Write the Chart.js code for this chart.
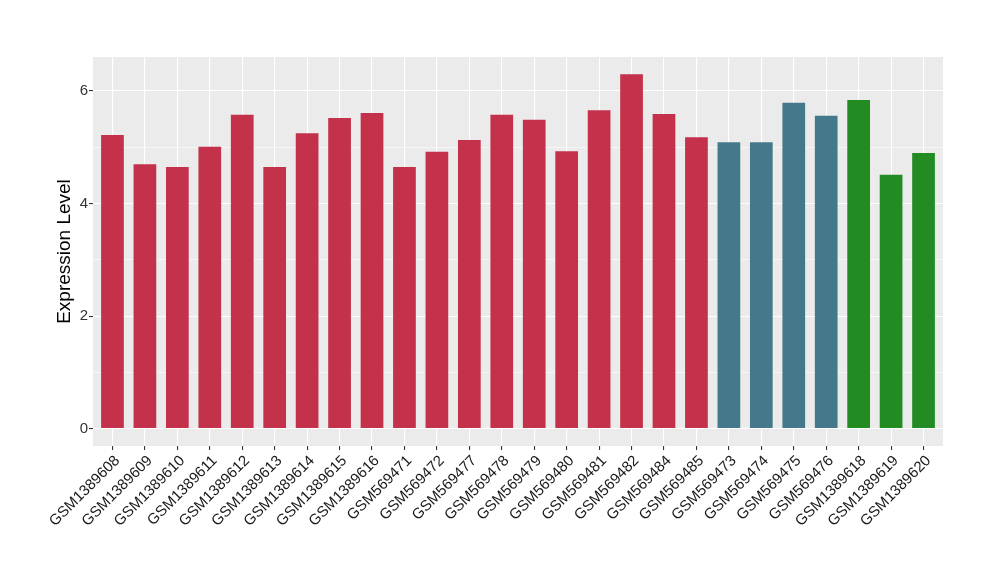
<!DOCTYPE html>
<html lang="en">
<head>
  <meta charset="UTF-8" />
  <title>Expression Level</title>
  <script src="https://cdn.jsdelivr.net/npm/chart.js"></script>
  <style>
    body, html {
      margin: 0;
      padding: 0;
      background: #fff;
    }
  </style>
</head>
<body>
  <canvas id="chart" width="1000" height="580"></canvas>

  <script>
    // Samples and their expression values, in plot order
    const samples = [
      'GSM1389608', 'GSM1389609', 'GSM1389610', 'GSM1389611', 'GSM1389612',
      'GSM1389613', 'GSM1389614', 'GSM1389615', 'GSM1389616', 'GSM569471',
      'GSM569472', 'GSM569477', 'GSM569478', 'GSM569479', 'GSM569480',
      'GSM569481', 'GSM569482', 'GSM569484', 'GSM569485', 'GSM569473',
      'GSM569474', 'GSM569475', 'GSM569476', 'GSM1389618', 'GSM1389619',
      'GSM1389620'
    ];
    const values = [
      5.22, 4.70, 4.65, 5.01, 5.58,
      4.65, 5.25, 5.52, 5.61, 4.65,
      4.92, 5.13, 5.58, 5.49, 4.93,
      5.66, 6.30, 5.59, 5.18, 5.09,
      5.09, 5.79, 5.56, 5.84, 4.51,
      4.90
    ];
    // group index of each sample (0 = red, 1 = teal, 2 = green)
    const groups = [
      0, 0, 0, 0, 0, 0, 0, 0, 0, 0,
      0, 0, 0, 0, 0, 0, 0, 0, 0, 1,
      1, 1, 1, 2, 2, 2
    ];
    const groupColors = ['#C3314A', '#43798A', '#228B22'];
    const yTicks = [0, 1, 2, 3, 4, 5, 6];

    const FONT = "'Liberation Sans', Arial, sans-serif";

    // grey ggplot panel behind the bars
    const panelBg = {
      id: 'panelBg',
      beforeDraw(chart) {
        const { ctx, chartArea: a } = chart;
        ctx.save();
        ctx.fillStyle = '#EBEBEB';
        ctx.fillRect(a.left, a.top, a.right - a.left, a.bottom - a.top);
        ctx.restore();
      }
    };

    new Chart(document.getElementById('chart'), {
      type: 'bar',
      data: {
        datasets: [{
          data: values.map((v, i) => ({ x: i, y: v })),
          backgroundColor: groups.map(g => groupColors[g]),
          borderWidth: 0,
          barPercentage: 0.7,
          categoryPercentage: 1.0
        }]
      },
      plugins: [panelBg],
      options: {
        responsive: false,
        animation: false,
        layout: { padding: { top: 57, right: 57, left: 0, bottom: 0 } },
        plugins: {
          legend: { display: false },
          tooltip: { enabled: false }
        },
        scales: {
          x: {
            type: 'linear',
            offset: false,
            min: -0.6,
            max: samples.length - 0.4,
            afterBuildTicks: s => { s.ticks = samples.map((_, i) => ({ value: i })); },
            afterFit: s => { s.height = 134; },
            border: { display: false },
            grid: {
              offset: false,
              color: '#FFFFFF',
              lineWidth: 1.1,
              drawTicks: true,
              tickLength: 4,
              tickColor: '#333333'
            },
            ticks: {
              autoSkip: false,
              minRotation: 45,
              maxRotation: 45,
              padding: 2,
              labelOffset: 5,
              color: '#1A1A1A',
              font: { family: FONT, size: 15 },
              callback: v => samples[v]
            }
          },
          y: {
            min: -0.31,
            max: 6.605,
            afterBuildTicks: s => { s.ticks = yTicks.map(v => ({ value: v })); },
            afterFit: s => { s.width = 93; },
            border: { display: false },
            grid: {
              color: '#FFFFFF',
              lineWidth: c => (c.tick && c.tick.value % 2 === 0 ? 1.1 : 0.55),
              drawTicks: true,
              tickLength: 4,
              tickColor: c => (c.tick && c.tick.value % 2 === 0 ? '#333333' : 'rgba(0,0,0,0)')
            },
            ticks: {
              padding: 1,
              color: '#333333',
              font: { family: FONT, size: 15 },
              callback: v => (v % 2 === 0 ? String(v) : '')
            },
            title: {
              display: true,
              text: 'Expression Level',
              color: '#000000',
              font: { family: FONT, size: 19 },
              padding: { top: 53, bottom: 0 }
            }
          }
        }
      }
    });
  </script>
</body>
</html>
